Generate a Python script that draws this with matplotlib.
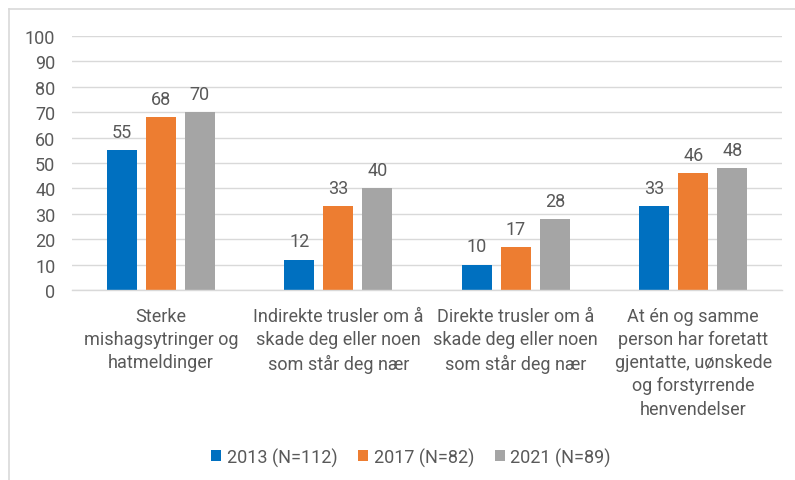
import matplotlib
matplotlib.use("Agg")
import matplotlib.pyplot as plt
import numpy as np
from matplotlib.lines import Line2D

categories = [
    "Sterke\nmishagsytringer og\nhatmeldinger",
    "Indirekte trusler om å\nskade deg eller noen\nsom står deg nær",
    "Direkte trusler om å\nskade deg eller noen\nsom står deg nær",
    "At én og samme\nperson har foretatt\ngjentatte, uønskede\nog forstyrrende\nhenvendelser",
]
series_names = ["2013 (N=112)", "2017 (N=82)", "2021 (N=89)"]
v2013 = [55, 12, 10, 33]
v2017 = [68, 33, 17, 46]
v2021 = [70, 40, 28, 48]
yticks = [0, 10, 20, 30, 40, 50, 60, 70, 80, 90, 100]

colors = ["#0070C0", "#ED7D31", "#A5A5A5"]
text_color = "#595959"
plt.rcParams['font.family'] = ['Roboto', 'DejaVu Sans']
FS = 13

fig = plt.figure(figsize=(7.95, 4.81), dpi=100)
W, H = 795, 481
ax = fig.add_axes([72 / W, 1 - 291 / H, (782 - 72) / W, (291 - 37) / H])

x = np.arange(len(categories))
bw = 0.17
step = 0.22
for i, (vals, name) in enumerate(zip([v2013, v2017, v2021], series_names)):
    pos = x + (i - 1) * step
    ax.bar(pos, vals, width=bw, color=colors[i], label=name, zorder=3)
    for p, v in zip(pos, vals):
        ax.text(p, v + 3.6, str(v), ha="center", va="bottom", fontsize=FS, color=text_color)

ax.set_xlim(-0.5, len(categories) - 0.5)
ax.set_ylim(0, 100)
ax.set_yticks(yticks)
ax.set_yticklabels([str(t) for t in yticks], fontsize=FS, color=text_color)
ax.set_xticks(x)
ax.set_xticklabels(categories, fontsize=FS, color=text_color, linespacing=1.37, va="top")
ax.tick_params(axis="both", length=0)
ax.tick_params(axis="x", pad=12)
ax.tick_params(axis="y", pad=12)
ax.grid(axis="y", color="#D9D9D9", linewidth=1.0, zorder=0)
for s in ["top", "right", "left"]:
    ax.spines[s].set_visible(False)
ax.spines["bottom"].set_color("#D9D9D9")
ax.spines["bottom"].set_linewidth(1.0)
ax.spines["bottom"].set_zorder(4)

leg = fig.legend(loc="center", bbox_to_anchor=(411 / W, 1 - 458 / H), ncol=3, frameon=False,
                 fontsize=FS, handlelength=0.55, handleheight=0.55, handletextpad=0.3,
                 columnspacing=1.15)
for t in leg.get_texts():
    t.set_color(text_color)

fig.add_artist(Line2D([9 / W, 1], [1 - 10 / H, 1 - 10 / H], color="#D9D9D9", linewidth=1.2, transform=fig.transFigure))
fig.add_artist(Line2D([9 / W, 9 / W], [0, 1 - 10 / H], color="#D9D9D9", linewidth=1.2, transform=fig.transFigure))

fig.savefig("out.png", dpi=100)
